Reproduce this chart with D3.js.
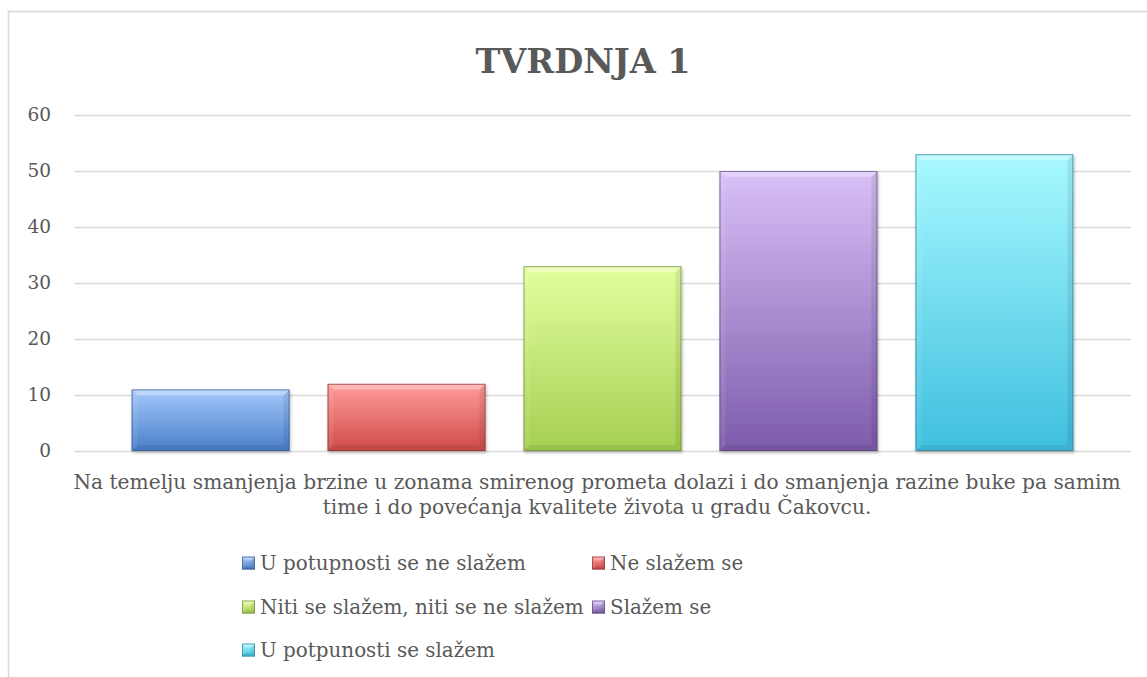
<!DOCTYPE html>
<html>
<head>
<meta charset="utf-8">
<script src="https://cdn.jsdelivr.net/npm/d3@7"></script>
<style>
  html, body { margin: 0; padding: 0; background: #fff; }
  svg { display: block; }
  text { font-family: "DejaVu Serif", serif; fill: #595959; }
</style>
</head>
<body>
<svg id="chart" width="1147" height="677"></svg>
<script>
// ---- data ----
const chartTitle = "TVRDNJA 1";
const categories = [
  "U potupnosti se ne slažem",
  "Ne slažem se",
  "Niti se slažem, niti se ne slažem",
  "Slažem se",
  "U potpunosti se slažem"
];
const values = [11, 12, 33, 50, 53];
const yTicks = [0, 10, 20, 30, 40, 50, 60];
const xLabelLines = [
  "Na temelju smanjenja brzine u zonama smirenog prometa dolazi i do smanjenja razine buke pa samim",
  "time i do povećanja kvalitete života u gradu Čakovcu."
];
const topColors = ["#a3c8fb", "#ff9c9a", "#e4ff9e", "#d8c0f7", "#a8f9ff"];
const bottomColors = ["#4a7fca", "#cf4a47", "#a5cf52", "#7d5bab", "#3fbfdf"];
const edgeColors = ["#385d8a", "#8c3836", "#71893f", "#5c4776", "#357d91"];

// ---- layout ----
const W = 1147, H = 677;
const plot = { left: 74, right: 1131, top: 115, bottom: 451 };

const svg = d3.select("#chart");

// chart border
svg.append("rect")
  .attr("x", 8.5).attr("y", 11.5)
  .attr("width", W + 20).attr("height", H + 20)
  .attr("fill", "#fff").attr("stroke", "#d9d9d9").attr("stroke-width", 1.6);

const defs = svg.append("defs");
categories.forEach((c, i) => {
  const g = defs.append("linearGradient")
    .attr("id", "grad" + i).attr("x1", 0).attr("y1", 0).attr("x2", 0).attr("y2", 1);
  g.append("stop").attr("offset", "0%").attr("stop-color", topColors[i]);
  g.append("stop").attr("offset", "100%").attr("stop-color", bottomColors[i]);
});
const shadow = defs.append("filter").attr("id", "shadow")
  .attr("x", "-10%").attr("y", "-10%").attr("width", "130%").attr("height", "130%");
shadow.append("feDropShadow").attr("dx", 1).attr("dy", 2).attr("stdDeviation", 1.8)
  .attr("flood-color", "#000").attr("flood-opacity", 0.25);

// scales
const x = d3.scaleBand().domain(categories)
  .range([plot.left, plot.right]).paddingInner(0.194).paddingOuter(0.294);
const y = d3.scaleLinear().domain([0, 60]).range([plot.bottom, plot.top]);

// gridlines
const grid = svg.append("g").attr("transform", `translate(${plot.left},0)`)
  .call(d3.axisLeft(y).tickValues(yTicks).tickSize(-(plot.right - plot.left)).tickFormat(""));
grid.select(".domain").remove();
grid.selectAll("line").attr("stroke", "#d9d9d9").attr("stroke-width", 1.6);

// y axis labels
const yAxis = svg.append("g").attr("transform", `translate(${plot.left},0)`)
  .call(d3.axisLeft(y).tickValues(yTicks).tickSize(0).tickPadding(23));
yAxis.select(".domain").remove();
yAxis.selectAll("text").style("font-family", '"DejaVu Serif", serif')
  .style("font-size", "18.5px").attr("fill", "#595959");

// bars with bevel
function bevelBar(g, bx, by, bw, bh, i, b) {
  g.append("rect").attr("x", bx).attr("y", by).attr("width", bw).attr("height", bh)
    .attr("fill", `url(#grad${i})`);
  const pts = (a) => a.map(p => p.join(",")).join(" ");
  // top highlight
  g.append("polygon").attr("points", pts([[bx, by], [bx + bw, by], [bx + bw - b, by + b], [bx + b, by + b]]))
    .attr("fill", "#fff").attr("opacity", 0.3);
  // left side
  g.append("polygon").attr("points", pts([[bx, by], [bx + b, by + b], [bx + b, by + bh - b], [bx, by + bh]]))
    .attr("fill", "#fff").attr("opacity", 0.08);
  // right side
  g.append("polygon").attr("points", pts([[bx + bw, by], [bx + bw - b, by + b], [bx + bw - b, by + bh - b], [bx + bw, by + bh]]))
    .attr("fill", "#000").attr("opacity", 0.08);
  // bottom
  g.append("polygon").attr("points", pts([[bx, by + bh], [bx + b, by + bh - b], [bx + bw - b, by + bh - b], [bx + bw, by + bh]]))
    .attr("fill", "#000").attr("opacity", 0.07);
  g.append("rect").attr("x", bx + 0.5).attr("y", by + 0.5).attr("width", bw - 1).attr("height", bh - 1)
    .attr("fill", "none").attr("stroke", edgeColors[i]).attr("stroke-width", 1).attr("opacity", 0.7);
}

const bars = svg.append("g");
categories.forEach((c, i) => {
  const g = bars.append("g").attr("filter", "url(#shadow)");
  const bx = x(c), bw = x.bandwidth();
  const by = y(values[i]), bh = y(0) - y(values[i]);
  bevelBar(g, bx, by, bw, bh, i, 6);
});

// title
svg.append("text").attr("x", 583).attr("y", 73)
  .attr("text-anchor", "middle").style("font-size", "33.5px").style("font-weight", "bold")
  .text(chartTitle);

// category label
svg.append("g").selectAll("text").data(xLabelLines).join("text")
  .attr("x", 597)
  .attr("y", (d, i) => 489 + i * 25)
  .attr("text-anchor", "middle").style("font-size", "20.2px")
  .text(d => d);

// legend
const legendCols = [242, 592];
const legendRows = [563, 607, 650];
const legend = svg.append("g");
categories.forEach((c, i) => {
  const lx = legendCols[i % 2], ly = legendRows[Math.floor(i / 2)];
  const g = legend.append("g");
  bevelBar(g, lx, ly - 6.5, 13, 13, i, 4);
  g.append("text").attr("x", lx + 18).attr("y", ly).attr("dy", "0.35em")
    .style("font-size", "19.9px").text(c);
});
</script>
</body>
</html>
